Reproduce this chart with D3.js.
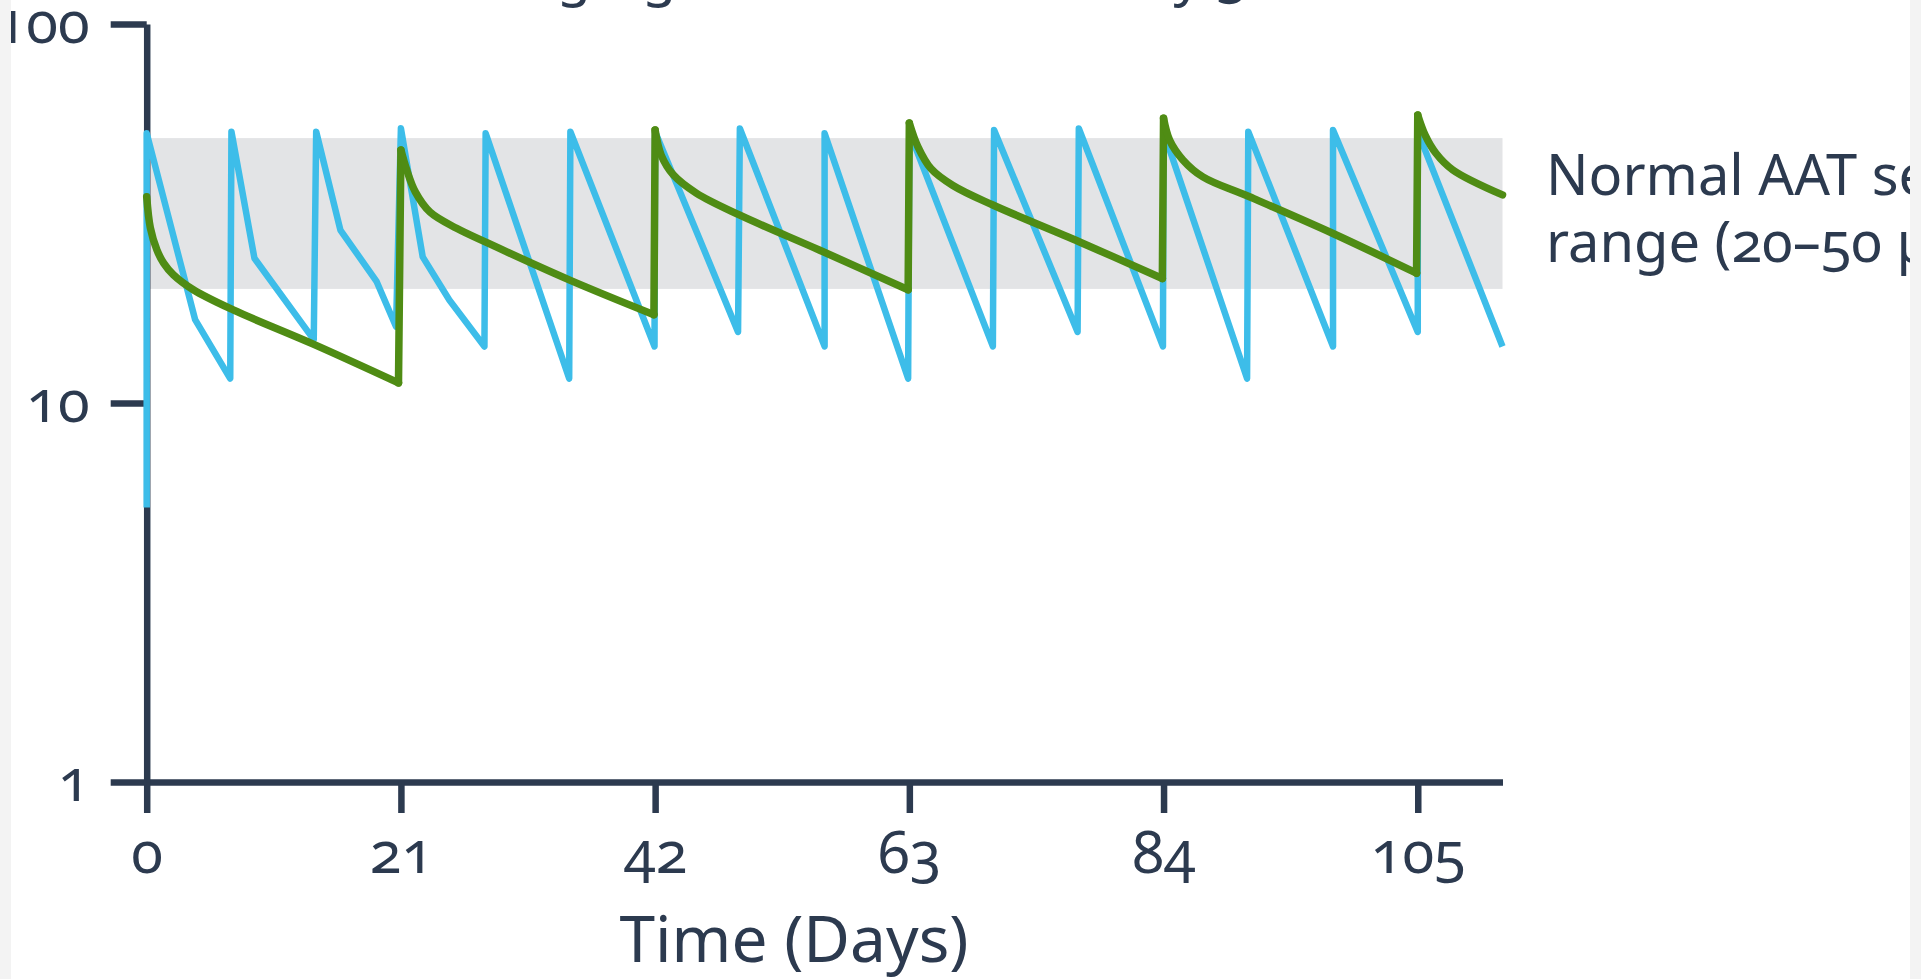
<!DOCTYPE html>
<html>
<head>
<meta charset="utf-8">
<script src="https://cdn.jsdelivr.net/npm/d3@7"></script>
<style>
  html, body { margin: 0; padding: 0; background: #f3f3f3; }
  svg { position: absolute; left: 11px; top: 0; background: #ffffff; overflow: hidden; }
  text { font-family: "Noto Sans", "Open Sans", sans-serif; fill: #2c3a4f; font-variant-numeric: oldstyle-nums; font-feature-settings: "onum" 1; }
</style>
</head>
<body>
<script>
// ---- data ----
const xTicks = [0, 21, 42, 63, 84, 105];
const yTicks = [1, 10, 100];
const normalRange = [20, 50];
const titleText = "Dose 120 mg/kg infusion once every 3 weeks";
const xLabel = "Time (Days)";
const rangeLabel = ["Normal AAT serum", "range (20\u201350 \u03bcM)"];

// weekly dosing (blue): [day, level]
const weeklyDays = [0, 0, 4.0, 6.9, 7, 8.9, 13.8, 14, 16, 19, 20.6, 21, 22.8, 25, 27.9,
  28, 34.9, 35, 41.95, 42, 48.85, 49, 56, 56, 62.9, 63, 69.9, 70, 76.9, 77, 83.95,
  84, 90.9, 91, 98, 98, 105, 105, 112];
const weeklyLevels = [5.3, 51.5, 16.6, 11.6, 52, 24.1, 14.7, 52, 28.6, 20.9, 15.9, 53.1, 24.3, 18.7, 14.1,
  51.5, 11.6, 52, 14.1, 52, 15.4, 53, 14.1, 51.5, 11.6, 52, 14.1, 52.5, 15.4, 53, 14.1,
  52, 11.6, 52, 14.1, 52.5, 15.4, 52, 14.1];

// every-3-weeks dosing (green): one array per dosing cycle
const cycleDays = [
  [0, 0.3, 0.85, 1.4, 2.2, 3.85, 7.15, 13.76, 20.8],
  [21, 21.45, 22.2, 23.4, 25.6, 28.2, 34.95, 41.9],
  [42, 42.5, 43.5, 45.4, 49.0, 55.6, 62.9],
  [63, 63.7, 64.8, 66.6, 69.9, 77.07, 83.9],
  [84, 84.5, 85.6, 87.25, 91.1, 98.0, 104.9],
  [105, 105.6, 106.5, 107.9, 112]
];
const cycleLevels = [
  [35.0, 29.0, 25.3, 23.4, 21.8, 19.9, 17.6, 14.3, 11.3],
  [46.5, 41.5, 36.0, 31.9, 28.9, 26.4, 21.1, 17.1],
  [52.5, 45.1, 40.0, 35.8, 31.3, 25.3, 19.9],
  [54.8, 47.5, 41.5, 37.5, 33.3, 26.6, 21.3],
  [56.4, 49.4, 43.8, 39.5, 35.0, 28.0, 22.0],
  [57.5, 51.0, 45.6, 41.2, 35.4]
];

// ---- layout ----
const W = 1899, H = 979;
const ox = -11; // svg offset
const svg = d3.select("body").append("svg").attr("width", W).attr("height", H);
const g = svg.append("g").attr("transform", `translate(${ox},0)`);

const x = d3.scaleLinear().domain([0, 112]).range([146.7, 1502.5]);
const y = d3.scaleLog().domain([1, 100]).range([782, 24]);

const axisColor = "#2c3a4f";
const blue = "#3dbde9";
const green = "#4f8c14";

// band
g.append("rect")
  .attr("x", x(0)).attr("width", x(112) - x(0))
  .attr("y", y(normalRange[1])).attr("height", y(normalRange[0]) - y(normalRange[1]))
  .attr("fill", "#e3e4e6");

// title (mostly cut off at top)
g.append("text").attr("x", 838).attr("y", -6).attr("text-anchor", "middle")
  .attr("font-size", 56).text(titleText);

// axes
const xAxis = d3.axisBottom(x).tickValues(xTicks).tickSize(31).tickSizeOuter(0).tickFormat(d3.format("d"));
const yAxis = d3.axisLeft(y).tickValues(yTicks).tickSize(36).tickSizeOuter(0).tickFormat(d3.format("d"));

const gx = g.append("g").attr("transform", `translate(0,${y(1)})`).call(xAxis);
const gy = g.append("g").attr("transform", `translate(${x(0)},0)`).call(yAxis);

[gx, gy].forEach(a => {
  a.select(".domain").attr("stroke", axisColor).attr("stroke-width", 6.5);
  a.selectAll(".tick line").attr("stroke", axisColor).attr("stroke-width", 6.5);
  a.selectAll(".tick text").attr("fill", axisColor).attr("font-size", 58)
    .attr("font-family", '"Noto Sans", sans-serif');
});
gx.selectAll(".tick text").attr("y", 91).attr("dy", 0);
gy.selectAll(".tick text").attr("x", -57).attr("dy", 0).attr("y", 18);

// lines
const line = d3.line().x(d => x(d[0])).y(d => y(d[1]));
const weekly = weeklyDays.map((d, i) => [d, weeklyLevels[i]]);
g.append("path").datum(weekly).attr("d", line)
  .attr("fill", "none").attr("stroke", blue).attr("stroke-width", 6.5)
  .attr("stroke-linejoin", "round");

const smooth = d3.line().x(d => x(d[0])).y(d => y(d[1])).curve(d3.curveCatmullRom.alpha(0.5));
const cycles = cycleDays.map((ds, k) => ds.map((d, i) => [d, cycleLevels[k][i]]));
// vertical jumps at each dose
const jumps = cycles.slice(1).map((c, k) => {
  const prev = cycles[k];
  return [prev[prev.length - 1], c[0]];
});
jumps.forEach(j => {
  g.append("path").datum(j).attr("d", line)
    .attr("fill", "none").attr("stroke", green).attr("stroke-width", 7.5)
    .attr("stroke-linecap", "round");
});
cycles.forEach(c => {
  g.append("path").datum(c).attr("d", smooth)
    .attr("fill", "none").attr("stroke", green).attr("stroke-width", 7.5)
    .attr("stroke-linecap", "round").attr("stroke-linejoin", "round");
});

// range label
const rl = g.append("text").attr("font-size", 56);
rangeLabel.forEach((t, i) => {
  rl.append("tspan").attr("x", 1546).attr("y", 195 + i * 67).text(t);
});

// x label
g.append("text").attr("x", 794).attr("y", 962).attr("text-anchor", "middle")
  .attr("font-size", 64).text(xLabel);
</script>
</body>
</html>
